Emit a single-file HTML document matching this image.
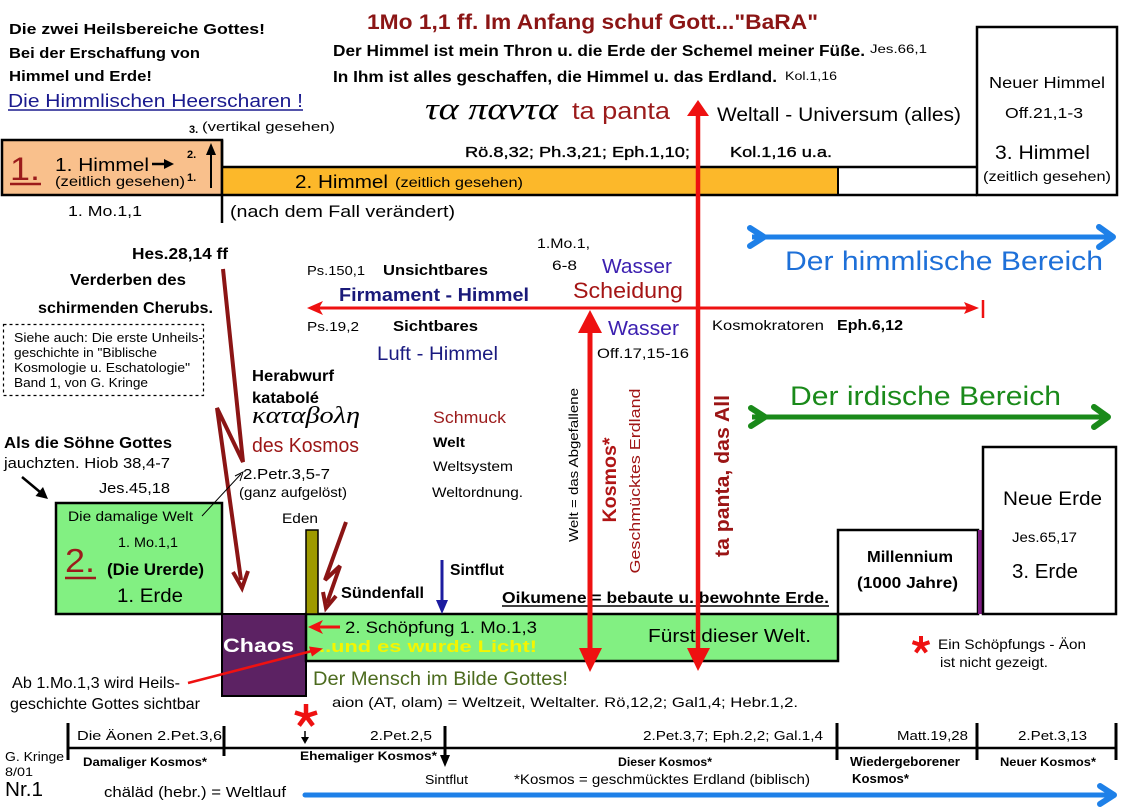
<!DOCTYPE html>
<html><head><meta charset="utf-8">
<style>
html,body{margin:0;padding:0;background:#fff;}
svg{display:block;}
text{font-family:"Liberation Sans",Arial,sans-serif;fill:#000;}
.b{font-weight:bold;}
.g{font-family:"Liberation Serif","DejaVu Serif",serif;font-style:italic;}
</style></head>
<body>
<svg width="1128" height="810" viewBox="0 0 1128 810" xmlns="http://www.w3.org/2000/svg">
<rect x="0" y="0" width="1128" height="810" fill="#fff"/>

<!-- ===== Top band: heavens ===== -->
<rect x="2" y="140" width="220" height="55" fill="#f9c08c" stroke="#000" stroke-width="2.5"/>
<rect x="222" y="167" width="616" height="28" fill="#fcb82a"/>
<rect x="838" y="167" width="139" height="28" fill="#fff"/>
<line x1="222" y1="167" x2="977" y2="167" stroke="#000" stroke-width="2.5"/>
<line x1="222" y1="195" x2="977" y2="195" stroke="#000" stroke-width="2.5"/>
<line x1="838" y1="167" x2="838" y2="195" stroke="#000" stroke-width="2"/>
<line x1="222" y1="140" x2="222" y2="223" stroke="#000" stroke-width="2.5"/>
<rect x="977" y="27" width="140" height="168" fill="#fff" stroke="#000" stroke-width="2.5"/>

<text x="9" y="34" class="b" font-size="15" textLength="256" lengthAdjust="spacingAndGlyphs">Die zwei  Heilsbereiche Gottes!</text>
<text x="9" y="58" class="b" font-size="15" textLength="191" lengthAdjust="spacingAndGlyphs">Bei der Erschaffung von</text>
<text x="9" y="81" class="b" font-size="15" textLength="143" lengthAdjust="spacingAndGlyphs">Himmel und Erde!</text>
<text x="8" y="107" font-size="18" style="fill:#1a1a8e" textLength="295" lengthAdjust="spacingAndGlyphs">Die Himmlischen Heerscharen !</text>
<line x1="8" y1="110" x2="303" y2="110" stroke="#1a1a8e" stroke-width="1.5"/>

<text x="189" y="133" class="b" font-size="11">3.</text>
<text x="202" y="131" font-size="13" textLength="133" lengthAdjust="spacingAndGlyphs">(vertikal gesehen)</text>

<text x="10" y="180" font-size="32" style="fill:#9b1b1b" textLength="30" lengthAdjust="spacingAndGlyphs">1.</text>
<line x1="10" y1="184" x2="41" y2="184" stroke="#9b1b1b" stroke-width="2.5"/>
<text x="55" y="171" font-size="18" textLength="94" lengthAdjust="spacingAndGlyphs">1. Himmel</text>
<line x1="152" y1="164" x2="166" y2="164" stroke="#000" stroke-width="2.5"/>
<polygon points="164,159 174,164 164,169" fill="#000"/>
<text x="187" y="158" class="b" font-size="11">2.</text>
<text x="187" y="181" class="b" font-size="11">1.</text>
<line x1="211" y1="188" x2="211" y2="152" stroke="#000" stroke-width="2"/>
<polygon points="206,155 211,143 216,155" fill="#000"/>
<text x="55" y="186" font-size="14" textLength="130" lengthAdjust="spacingAndGlyphs">(zeitlich gesehen)</text>

<text x="295" y="188" font-size="18.5" textLength="93" lengthAdjust="spacingAndGlyphs">2. Himmel</text>
<text x="395" y="187" font-size="14" textLength="128" lengthAdjust="spacingAndGlyphs">(zeitlich gesehen)</text>

<text x="68" y="216" font-size="15" textLength="74" lengthAdjust="spacingAndGlyphs">1. Mo.1,1</text>
<text x="230" y="217" font-size="17" textLength="225" lengthAdjust="spacingAndGlyphs">(nach dem Fall verändert)</text>

<text x="367" y="29" class="b" font-size="21" style="fill:#8b1515" textLength="451" lengthAdjust="spacingAndGlyphs">1Mo 1,1 ff.  Im Anfang schuf Gott..."BaRA"</text>
<text x="333" y="56" class="b" font-size="15.5" textLength="532" lengthAdjust="spacingAndGlyphs">Der Himmel ist mein Thron u. die Erde der Schemel meiner Füße.</text>
<text x="870" y="53" font-size="12" textLength="57" lengthAdjust="spacingAndGlyphs">Jes.66,1</text>
<text x="333" y="82" class="b" font-size="15.5" textLength="444" lengthAdjust="spacingAndGlyphs">In Ihm ist alles geschaffen, die Himmel u. das Erdland.</text>
<text x="785" y="80" font-size="12" textLength="52" lengthAdjust="spacingAndGlyphs">Kol.1,16</text>

<text x="425" y="119" class="g" font-size="31" textLength="133" lengthAdjust="spacingAndGlyphs">τα παντα</text>
<text x="572" y="119" font-size="24" style="fill:#9b1b1b" textLength="98" lengthAdjust="spacingAndGlyphs">ta panta</text>
<text x="717" y="121" font-size="19" textLength="244" lengthAdjust="spacingAndGlyphs">Weltall - Universum (alles)</text>
<text x="465" y="157" font-size="15" stroke="#000" stroke-width="0.35" textLength="225" lengthAdjust="spacingAndGlyphs">Rö.8,32; Ph.3,21; Eph.1,10;</text>
<text x="730" y="157" font-size="15" stroke="#000" stroke-width="0.35" textLength="102" lengthAdjust="spacingAndGlyphs">Kol.1,16 u.a.</text>

<text x="989" y="88" font-size="16" textLength="116" lengthAdjust="spacingAndGlyphs">Neuer Himmel</text>
<text x="1005" y="118" font-size="15" textLength="78" lengthAdjust="spacingAndGlyphs">Off.21,1-3</text>
<text x="995" y="159" font-size="19" textLength="95" lengthAdjust="spacingAndGlyphs">3. Himmel</text>
<text x="983" y="181" font-size="14" textLength="128" lengthAdjust="spacingAndGlyphs">(zeitlich gesehen)</text>

<!-- himmlischer Bereich -->
<line x1="752" y1="237" x2="1110" y2="237" stroke="#1e80e8" stroke-width="5"/>
<polyline points="750,228 764,237 750,246" fill="none" stroke="#1e80e8" stroke-width="6" stroke-linecap="round" stroke-linejoin="round"/>
<polyline points="1099,227 1113,237 1099,247" fill="none" stroke="#1e80e8" stroke-width="6" stroke-linecap="round" stroke-linejoin="round"/>
<text x="785" y="270" font-size="27" style="fill:#1e70d8" textLength="318" lengthAdjust="spacingAndGlyphs">Der himmlische Bereich</text>

<!-- ===== Left side ===== -->
<text x="132" y="259" class="b" font-size="16" textLength="96" lengthAdjust="spacingAndGlyphs">Hes.28,14 ff</text>
<text x="70" y="285" class="b" font-size="16" textLength="116" lengthAdjust="spacingAndGlyphs">Verderben des</text>
<text x="38" y="313" class="b" font-size="16" textLength="175" lengthAdjust="spacingAndGlyphs">schirmenden Cherubs.</text>
<rect x="3.5" y="324.5" width="200" height="71" fill="none" stroke="#000" stroke-width="1.2" stroke-dasharray="3,3"/>
<text x="14" y="342" font-size="12.5" textLength="189" lengthAdjust="spacingAndGlyphs">Siehe auch:  Die erste Unheils-</text>
<text x="14" y="357" font-size="12.5" textLength="143" lengthAdjust="spacingAndGlyphs">geschichte in "Biblische</text>
<text x="14" y="372" font-size="12.5" textLength="176" lengthAdjust="spacingAndGlyphs">Kosmologie  u. Eschatologie"</text>
<text x="14" y="387" font-size="12.5" textLength="134" lengthAdjust="spacingAndGlyphs">Band 1, von G. Kringe</text>

<text x="4" y="448" class="b" font-size="16" textLength="168" lengthAdjust="spacingAndGlyphs">Als die Söhne Gottes</text>
<text x="4" y="468" font-size="15" textLength="166" lengthAdjust="spacingAndGlyphs">jauchzten. Hiob 38,4-7</text>
<text x="99" y="493" font-size="15" textLength="71" lengthAdjust="spacingAndGlyphs">Jes.45,18</text>
<line x1="22" y1="477" x2="40" y2="492" stroke="#000" stroke-width="2.5"/>
<polygon points="48,499 35.5,496 43,487" fill="#000"/>

<!-- Herabwurf -->
<text x="252" y="381" class="b" font-size="16" textLength="82" lengthAdjust="spacingAndGlyphs">Herabwurf</text>
<text x="252" y="403" class="b" font-size="16" textLength="67" lengthAdjust="spacingAndGlyphs">katabolé</text>
<text x="252" y="423" class="g" font-size="24" textLength="108" lengthAdjust="spacingAndGlyphs">καταβολη</text>
<text x="252" y="452" font-size="20" style="fill:#9b1515" textLength="107" lengthAdjust="spacingAndGlyphs">des Kosmos</text>
<text x="243" y="479" font-size="15" textLength="87" lengthAdjust="spacingAndGlyphs">2.Petr.3,5-7</text>
<text x="239" y="497" font-size="14" textLength="108" lengthAdjust="spacingAndGlyphs">(ganz aufgelöst)</text>

<!-- lightning 1 -->
<polyline points="223,269 243,462 217,408 241,580" fill="none" stroke="#8b1515" stroke-width="4" stroke-linejoin="miter"/>
<polyline points="233,572 242,588 248,571" fill="none" stroke="#8b1515" stroke-width="4"/>

<!-- Firmament -->
<text x="307" y="275" font-size="13" textLength="58" lengthAdjust="spacingAndGlyphs">Ps.150,1</text>
<text x="383" y="275" class="b" font-size="15" textLength="105" lengthAdjust="spacingAndGlyphs">Unsichtbares</text>
<text x="339" y="301" class="b" font-size="18" style="fill:#1a1a7a" textLength="190" lengthAdjust="spacingAndGlyphs">Firmament - Himmel</text>
<text x="537" y="248" font-size="14" textLength="53" lengthAdjust="spacingAndGlyphs">1.Mo.1,</text>
<text x="552" y="270" font-size="14" textLength="25" lengthAdjust="spacingAndGlyphs">6-8</text>
<text x="602" y="273" font-size="20" style="fill:#3c20b0" textLength="70" lengthAdjust="spacingAndGlyphs">Wasser</text>
<text x="573" y="298" font-size="22" style="fill:#a51515" textLength="110" lengthAdjust="spacingAndGlyphs">Scheidung</text>
<text x="307" y="331" font-size="13" textLength="52" lengthAdjust="spacingAndGlyphs">Ps.19,2</text>
<text x="393" y="331" class="b" font-size="15" textLength="85" lengthAdjust="spacingAndGlyphs">Sichtbares</text>
<text x="608" y="335" font-size="20" style="fill:#3c20b0" textLength="71" lengthAdjust="spacingAndGlyphs">Wasser</text>
<text x="377" y="360" font-size="19" style="fill:#1a1a80" textLength="121" lengthAdjust="spacingAndGlyphs">Luft - Himmel</text>
<text x="597" y="358" font-size="14" textLength="92" lengthAdjust="spacingAndGlyphs">Off.17,15-16</text>
<text x="712" y="330" font-size="14" textLength="112" lengthAdjust="spacingAndGlyphs">Kosmokratoren</text>
<text x="837" y="330" class="b" font-size="15" textLength="66" lengthAdjust="spacingAndGlyphs">Eph.6,12</text>

<line x1="316" y1="308" x2="968" y2="308" stroke="#ee1111" stroke-width="3"/>
<polygon points="307,308 323,301 319,308 323,315" fill="#ee1111"/>
<polygon points="979,308 964,302 967,308 964,314" fill="#ee1111"/>
<line x1="983" y1="300" x2="983" y2="318" stroke="#ee1111" stroke-width="2.5"/>

<!-- Schmuck -->
<text x="433" y="423" font-size="17" style="fill:#9b1b1b" textLength="73" lengthAdjust="spacingAndGlyphs">Schmuck</text>
<text x="433" y="447" class="b" font-size="14" textLength="32" lengthAdjust="spacingAndGlyphs">Welt</text>
<text x="433" y="471" font-size="14" textLength="80" lengthAdjust="spacingAndGlyphs">Weltsystem</text>
<text x="432" y="497" font-size="14" textLength="91" lengthAdjust="spacingAndGlyphs">Weltordnung.</text>

<!-- rotated texts -->
<text transform="translate(578,465) rotate(-90)" text-anchor="middle" font-size="13" textLength="154" lengthAdjust="spacingAndGlyphs">Welt = das Abgefallene</text>
<text transform="translate(616,480) rotate(-90)" text-anchor="middle" class="b" font-size="19" style="fill:#b01515" textLength="85" lengthAdjust="spacingAndGlyphs">Kosmos*</text>
<text transform="translate(640,481) rotate(-90)" text-anchor="middle" font-size="15" style="fill:#a01515" textLength="185" lengthAdjust="spacingAndGlyphs">Geschmücktes Erdland</text>
<text transform="translate(729,476) rotate(-90)" text-anchor="middle" class="b" font-size="20" style="fill:#9b1515" textLength="162" lengthAdjust="spacingAndGlyphs">ta panta, das All</text>

<!-- irdischer Bereich -->
<text x="790" y="405" font-size="27" style="fill:#1a8a1a" textLength="271" lengthAdjust="spacingAndGlyphs">Der irdische Bereich</text>
<line x1="752" y1="417" x2="1105" y2="417" stroke="#1a8a1a" stroke-width="5"/>
<polyline points="751,408 765,417 751,426" fill="none" stroke="#1a8a1a" stroke-width="6" stroke-linecap="round" stroke-linejoin="round"/>
<polyline points="1094,407 1108,417 1094,427" fill="none" stroke="#1a8a1a" stroke-width="6" stroke-linecap="round" stroke-linejoin="round"/>

<!-- ===== Earth band ===== -->
<rect x="56" y="503" width="166" height="111" fill="#82f082" stroke="#000" stroke-width="2.5"/>
<text x="68" y="521" font-size="14" textLength="125" lengthAdjust="spacingAndGlyphs">Die damalige Welt</text>
<line x1="202" y1="516" x2="241" y2="474" stroke="#000" stroke-width="1"/>
<polyline points="240,481 243,472 235,476" fill="none" stroke="#000" stroke-width="1"/>
<text x="118" y="547" font-size="14" textLength="60" lengthAdjust="spacingAndGlyphs">1. Mo.1,1</text>
<text x="65" y="572" font-size="33" style="fill:#9b1b1b" textLength="30" lengthAdjust="spacingAndGlyphs">2.</text>
<line x1="65" y1="578" x2="96" y2="578" stroke="#9b1b1b" stroke-width="2.5"/>
<text x="107" y="575" class="b" font-size="17" textLength="97" lengthAdjust="spacingAndGlyphs">(Die Urerde)</text>
<text x="117" y="602" font-size="19" textLength="66" lengthAdjust="spacingAndGlyphs">1. Erde</text>

<rect x="222" y="614" width="84" height="82" fill="#5c2263" stroke="#000" stroke-width="2"/>
<text x="223" y="652" class="b" font-size="19" style="fill:#fff" textLength="71" lengthAdjust="spacingAndGlyphs">Chaos</text>

<rect x="306" y="614" width="532" height="47" fill="#82f082" stroke="#000" stroke-width="2.5"/>
<line x1="838" y1="614" x2="850" y2="614" stroke="#000" stroke-width="2.5"/>
<rect x="306" y="530" width="12" height="84" fill="#9e9a00" stroke="#000" stroke-width="1.5"/>
<text x="282" y="523" font-size="14" textLength="36" lengthAdjust="spacingAndGlyphs">Eden</text>

<!-- lightning 2 -->
<polyline points="346,522 325,580 340,566 327,603" fill="none" stroke="#8b1515" stroke-width="4"/>
<polyline points="323,592 326,608 336,596" fill="none" stroke="#8b1515" stroke-width="4"/>
<text x="341" y="598" class="b" font-size="16" textLength="83" lengthAdjust="spacingAndGlyphs">Sündenfall</text>

<text x="450" y="575" class="b" font-size="16" textLength="54" lengthAdjust="spacingAndGlyphs">Sintflut</text>
<line x1="442" y1="560" x2="442" y2="603" stroke="#1c1ca0" stroke-width="3"/>
<polygon points="436,600 448,600 442,614" fill="#1c1ca0"/>

<text x="502" y="603" class="b" font-size="16" textLength="327" lengthAdjust="spacingAndGlyphs">Oikumene  = bebaute u. bewohnte Erde.</text>
<line x1="502" y1="606" x2="829" y2="606" stroke="#000" stroke-width="1.5"/>

<text x="345" y="633" font-size="17" textLength="192" lengthAdjust="spacingAndGlyphs">2. Schöpfung  1. Mo.1,3</text>
<line x1="340" y1="627" x2="318" y2="627" stroke="#ee1111" stroke-width="3"/>
<polygon points="308,627 323,620 319,627 323,634" fill="#ee1111"/>
<text x="313" y="652" class="b" font-size="17" style="fill:#f5f500" textLength="224" lengthAdjust="spacingAndGlyphs">...und es wurde Licht!</text>
<text x="648" y="642" font-size="18" textLength="163" lengthAdjust="spacingAndGlyphs">Fürst  dieser Welt.</text>

<text x="12" y="688" font-size="16" textLength="168" lengthAdjust="spacingAndGlyphs">Ab 1.Mo.1,3 wird Heils-</text>
<text x="10" y="709" font-size="16" textLength="190" lengthAdjust="spacingAndGlyphs">geschichte Gottes sichtbar</text>
<line x1="188" y1="683" x2="312" y2="651" stroke="#ee1111" stroke-width="2.5"/>
<polygon points="323,648.5 309,646.5 312,656.5" fill="#ee1111"/>

<text x="313" y="685" font-size="19.5" style="fill:#4c6b1e" textLength="255" lengthAdjust="spacingAndGlyphs">Der Mensch im Bilde Gottes!</text>
<text x="332" y="707" font-size="14" textLength="466" lengthAdjust="spacingAndGlyphs">aion (AT, olam) = Weltzeit, Weltalter.    Rö,12,2;  Gal1,4;  Hebr.1,2.</text>

<!-- Millennium / Neue Erde -->
<rect x="838" y="530" width="140" height="84" fill="#fff" stroke="#000" stroke-width="2.5"/>
<rect x="978" y="530" width="5" height="84" fill="#7b1a80"/>
<text x="867" y="562" class="b" font-size="16" textLength="86" lengthAdjust="spacingAndGlyphs">Millennium</text>
<text x="857" y="588" class="b" font-size="16" textLength="101" lengthAdjust="spacingAndGlyphs">(1000 Jahre)</text>
<rect x="983" y="447" width="133" height="167" fill="#fff" stroke="#000" stroke-width="2.5"/>
<text x="1003" y="505" font-size="19" textLength="99" lengthAdjust="spacingAndGlyphs">Neue Erde</text>
<text x="1012" y="542" font-size="14" textLength="65" lengthAdjust="spacingAndGlyphs">Jes.65,17</text>
<text x="1012" y="578" font-size="20" textLength="66" lengthAdjust="spacingAndGlyphs">3. Erde</text>

<g stroke="#ee1111" stroke-width="4" stroke-linecap="butt">
<line x1="921" y1="645" x2="921" y2="636"/>
<line x1="921" y1="645" x2="929.5" y2="642.2"/>
<line x1="921" y1="645" x2="926.3" y2="652.3"/>
<line x1="921" y1="645" x2="915.7" y2="652.3"/>
<line x1="921" y1="645" x2="912.5" y2="642.2"/>
</g>
<text x="938" y="649" font-size="14" textLength="148" lengthAdjust="spacingAndGlyphs">Ein Schöpfungs - Äon</text>
<text x="940" y="667" font-size="14" textLength="108" lengthAdjust="spacingAndGlyphs">ist nicht gezeigt.</text>

<!-- main red arrows -->
<line x1="698" y1="112" x2="698" y2="652" stroke="#ee1111" stroke-width="4.5"/>
<polygon points="698,100 687,116 709,116" fill="#ee1111"/>
<polygon points="687,648 710,648 698,671" fill="#ee1111"/>
<line x1="590" y1="330" x2="590" y2="652" stroke="#ee1111" stroke-width="5"/>
<polygon points="590,310 578,333 602,333" fill="#ee1111"/>
<polygon points="579,648 602,648 590,672" fill="#ee1111"/>

<!-- ===== Timeline ===== -->
<g stroke="#ee1111" stroke-width="4.5">
<line x1="306" y1="716" x2="306" y2="704"/>
<line x1="306" y1="716" x2="317" y2="712.5"/>
<line x1="306" y1="716" x2="313" y2="725.5"/>
<line x1="306" y1="716" x2="299" y2="725.5"/>
<line x1="306" y1="716" x2="295" y2="712.5"/>
</g>
<line x1="305" y1="731" x2="305" y2="738" stroke="#000" stroke-width="1.5"/>
<polygon points="301,737 309,737 305,744" fill="#000"/>

<line x1="68" y1="748" x2="1116" y2="748" stroke="#000" stroke-width="2.5"/>
<g stroke="#000" stroke-width="3">
<line x1="68" y1="723" x2="68" y2="760"/>
<line x1="224" y1="726" x2="224" y2="756"/>
<line x1="445" y1="726" x2="445" y2="758"/>
<line x1="837" y1="723" x2="837" y2="760"/>
<line x1="977" y1="723" x2="977" y2="760"/>
<line x1="1116" y1="723" x2="1116" y2="760"/>
</g>
<polygon points="440,755 450,755 445,767" fill="#000"/>

<text x="77" y="740" font-size="13" textLength="145" lengthAdjust="spacingAndGlyphs">Die Äonen   2.Pet.3,6</text>
<text x="370" y="740" font-size="13" textLength="62" lengthAdjust="spacingAndGlyphs">2.Pet.2,5</text>
<text x="643" y="740" font-size="13" textLength="180" lengthAdjust="spacingAndGlyphs">2.Pet.3,7; Eph.2,2; Gal.1,4</text>
<text x="897" y="740" font-size="13" textLength="71" lengthAdjust="spacingAndGlyphs">Matt.19,28</text>
<text x="1018" y="740" font-size="13" textLength="69" lengthAdjust="spacingAndGlyphs">2.Pet.3,13</text>

<text x="5" y="761" font-size="13" textLength="59" lengthAdjust="spacingAndGlyphs">G. Kringe</text>
<text x="5" y="776" font-size="12" textLength="28" lengthAdjust="spacingAndGlyphs">8/01</text>
<text x="5" y="796" font-size="20" textLength="38" lengthAdjust="spacingAndGlyphs">Nr.1</text>

<text x="83" y="766" class="b" font-size="12" textLength="124" lengthAdjust="spacingAndGlyphs">Damaliger Kosmos*</text>
<text x="300" y="760" class="b" font-size="12" textLength="137" lengthAdjust="spacingAndGlyphs">Ehemaliger Kosmos*</text>
<text x="425" y="784" font-size="13" textLength="43" lengthAdjust="spacingAndGlyphs">Sintflut</text>
<text x="618" y="766" class="b" font-size="12" textLength="94" lengthAdjust="spacingAndGlyphs">Dieser Kosmos*</text>
<text x="514" y="784" font-size="14" textLength="296" lengthAdjust="spacingAndGlyphs">*Kosmos = geschmücktes Erdland (biblisch)</text>
<text x="850" y="766" class="b" font-size="13" textLength="110" lengthAdjust="spacingAndGlyphs">Wiedergeborener</text>
<text x="852" y="783" class="b" font-size="13" textLength="57" lengthAdjust="spacingAndGlyphs">Kosmos*</text>
<text x="1000" y="766" class="b" font-size="12" textLength="96" lengthAdjust="spacingAndGlyphs">Neuer Kosmos*</text>

<text x="104" y="797" font-size="15" textLength="182" lengthAdjust="spacingAndGlyphs">chäläd (hebr.) = Weltlauf</text>
<line x1="305" y1="795" x2="1110" y2="795" stroke="#1e80e8" stroke-width="5" stroke-linecap="round"/>
<polyline points="1100,786 1114,795 1100,804" fill="none" stroke="#1e80e8" stroke-width="6" stroke-linecap="round" stroke-linejoin="round"/>
</svg>
</body></html>
